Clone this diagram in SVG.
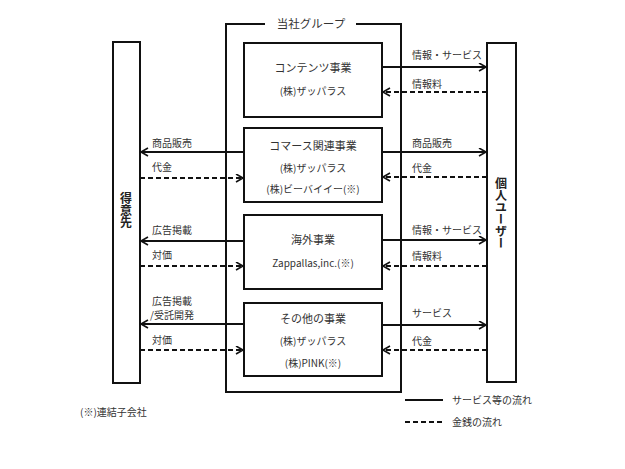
<svg xmlns="http://www.w3.org/2000/svg" width="625" height="469" viewBox="0 0 625 469">
<defs>
<style>
text{font-family:"Noto Sans CJK JP","Noto Sans",sans-serif;fill:#333;}
.box{fill:#fff;stroke:#111;stroke-width:2;}
.t{font-size:11px;text-anchor:middle;}
.s{font-size:10px;text-anchor:middle;}
.l{font-size:10px;}
.sol{stroke:#111;stroke-width:1.8;fill:none;}
.das{stroke:#111;stroke-width:1.8;fill:none;stroke-dasharray:5 3;}
.vt{font-size:12px;writing-mode:vertical-rl;text-anchor:middle;font-weight:bold;fill:#222;}
</style>
<marker id="ah" markerUnits="userSpaceOnUse" markerWidth="10" markerHeight="10" refX="8" refY="4.5" orient="auto">
<path d="M1,0.5 L8,4.5 L1,8.5" fill="none" stroke="#111" stroke-width="1.6"/>
</marker>
</defs>

<g id="group-frame">
<path d="M265,24 H226 V392 H401 V24 H356" fill="none" stroke="#111" stroke-width="2"/>
<text x="311" y="28" class="t" style="font-size:11.5px">当社グループ</text>
</g>

<g id="tokuisaki">
<rect x="113" y="42" width="27" height="341" class="box"/>
<text x="126" y="210" class="vt">得意先</text>
</g>

<g id="kojin-user">
<rect x="487" y="43" width="29" height="339" class="box"/>
<text x="501" y="213" class="vt">個人ユーザー</text>
</g>

<g id="contents">
<rect x="244" y="43" width="138" height="74" class="box"/>
<text x="313" y="72" class="t">コンテンツ事業</text>
<text x="313" y="95" class="s">(株)ザッパラス</text>
</g>

<g id="commerce">
<rect x="244" y="128" width="138" height="74" class="box"/>
<text x="313" y="150" class="t">コマース関連事業</text>
<text x="313" y="172" class="s">(株)ザッパラス</text>
<text x="313" y="193" class="s">(株)ビーバイイー(※)</text>
</g>

<g id="overseas">
<rect x="244" y="215" width="138" height="74" class="box"/>
<text x="313" y="244" class="t">海外事業</text>
<text x="313" y="267" class="s">Zappallas,inc.(※)</text>
</g>

<g id="other">
<rect x="244" y="303" width="138" height="73" class="box"/>
<text x="313" y="323" class="t">その他の事業</text>
<text x="313" y="345" class="s">(株)ザッパラス</text>
<text x="313" y="367" class="s">(株)PINK(※)</text>
</g>

<g id="connectors">
<line x1="382" y1="67" x2="486" y2="67" class="sol" marker-end="url(#ah)"/>
<line x1="487" y1="92" x2="383" y2="92" class="das" marker-end="url(#ah)"/>
<line x1="382" y1="152" x2="486" y2="152" class="sol" marker-end="url(#ah)"/>
<line x1="487" y1="177" x2="383" y2="177" class="das" marker-end="url(#ah)"/>
<line x1="382" y1="240" x2="486" y2="240" class="sol" marker-end="url(#ah)"/>
<line x1="487" y1="266" x2="383" y2="266" class="das" marker-end="url(#ah)"/>
<line x1="382" y1="325" x2="486" y2="325" class="sol" marker-end="url(#ah)"/>
<line x1="487" y1="350" x2="383" y2="350" class="das" marker-end="url(#ah)"/>

<line x1="244" y1="152" x2="141" y2="152" class="sol" marker-end="url(#ah)"/>
<line x1="140" y1="178" x2="243" y2="178" class="das" marker-end="url(#ah)"/>
<line x1="244" y1="241" x2="141" y2="241" class="sol" marker-end="url(#ah)"/>
<line x1="140" y1="266" x2="243" y2="266" class="das" marker-end="url(#ah)"/>
<line x1="244" y1="324" x2="141" y2="324" class="sol" marker-end="url(#ah)"/>
<line x1="140" y1="350" x2="243" y2="350" class="das" marker-end="url(#ah)"/>
</g>

<g id="labels">
<text x="412" y="59" class="l">情報・サービス</text>
<text x="412" y="88" class="l">情報料</text>
<text x="412" y="147" class="l">商品販売</text>
<text x="412" y="172" class="l">代金</text>
<text x="412" y="234" class="l">情報・サービス</text>
<text x="412" y="260" class="l">情報料</text>
<text x="412" y="317" class="l">サービス</text>
<text x="412" y="345" class="l">代金</text>

<text x="152" y="147" class="l">商品販売</text>
<text x="152" y="171" class="l">代金</text>
<text x="152" y="234" class="l">広告掲載</text>
<text x="152" y="259" class="l">対価</text>
<text x="152" y="305" class="l">広告掲載</text>
<text x="150" y="319" class="l">/受託開発</text>
<text x="152" y="344" class="l">対価</text>
</g>

<g id="legend">
<line x1="405" y1="400" x2="443" y2="400" stroke="#111" stroke-width="1.8"/>
<text x="452" y="404" class="l">サービス等の流れ</text>
<line x1="405" y1="422" x2="443" y2="422" stroke="#111" stroke-width="1.8" stroke-dasharray="5 3"/>
<text x="452" y="426" class="l">金銭の流れ</text>
<text x="80" y="416" class="l">(※)連結子会社</text>
</g>
</svg>
